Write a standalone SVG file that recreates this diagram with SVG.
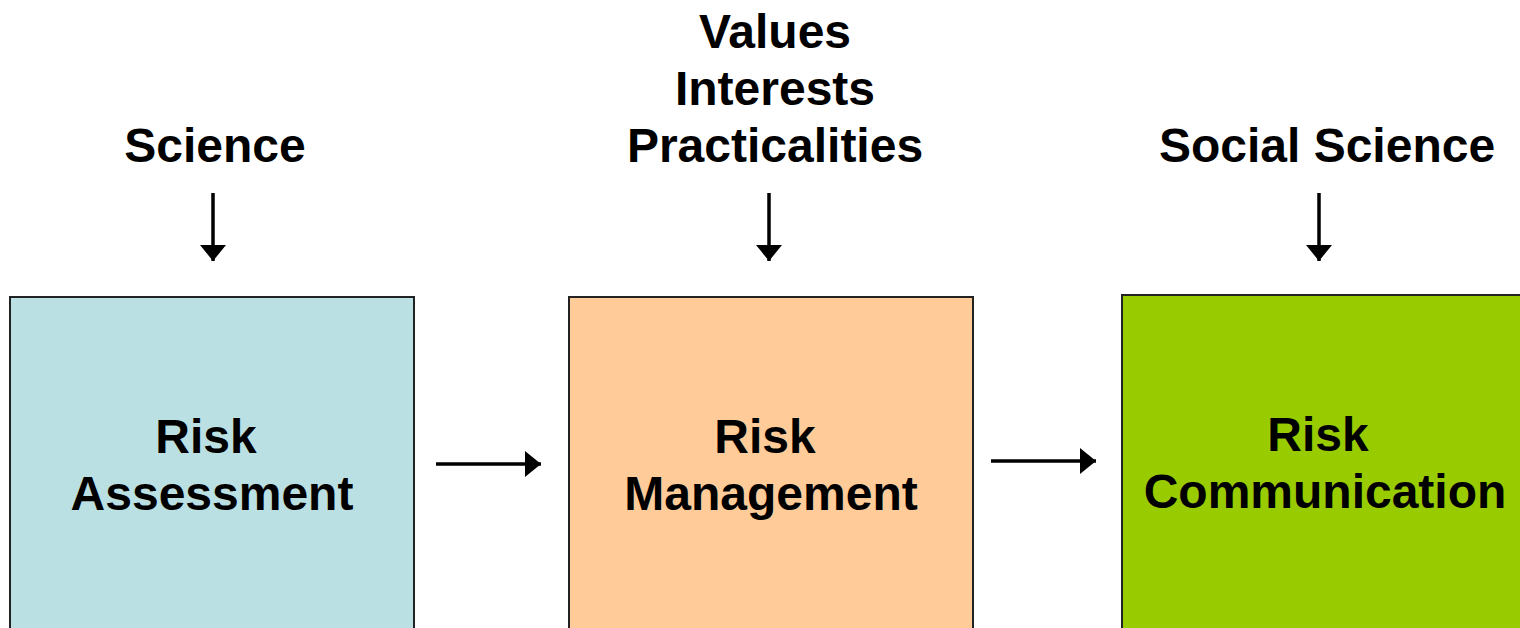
<svg xmlns="http://www.w3.org/2000/svg" width="1520" height="628" viewBox="0 0 1520 628">
<style>
.t{font-family:"Liberation Sans",Arial,sans-serif;font-weight:bold;font-size:48px;fill:#000;text-anchor:middle}
.box{stroke:#222;stroke-width:2}
.c{stroke:#000;stroke-width:3.5;fill:none}
</style>
<defs>
<marker id="ah" markerUnits="userSpaceOnUse" markerWidth="18" markerHeight="28" refX="16" refY="13" orient="auto">
<path d="M0,0 L16,13 L0,26 Z" fill="#000"/>
</marker>
</defs>
<rect width="1520" height="628" fill="#fff"/>
<g id="labels">
<text class="t" x="215" y="162">Science</text>
<text class="t" x="775" y="48">Values</text>
<text class="t" x="775" y="105">Interests</text>
<text class="t" x="775" y="162">Practicalities</text>
<text class="t" x="1327" y="162">Social Science</text>
</g>
<g id="node-assessment">
<rect class="box" x="10" y="297" width="404" height="340" fill="#BBE0E3"/>
<text class="t" x="206" y="453">Risk</text>
<text class="t" x="212" y="510">Assessment</text>
</g>
<g id="node-management">
<rect class="box" x="569" y="297" width="404" height="340" fill="#FFCC99"/>
<text class="t" x="765" y="453">Risk</text>
<text class="t" x="771" y="510">Management</text>
</g>
<g id="node-communication">
<rect class="box" x="1122" y="295" width="410" height="340" fill="#99CC00"/>
<text class="t" x="1318" y="451">Risk</text>
<text class="t" x="1325" y="508">Communication</text>
</g>
<g id="connectors">
<line class="c" x1="213" y1="193" x2="213" y2="261" marker-end="url(#ah)"/>
<line class="c" x1="769" y1="193" x2="769" y2="261" marker-end="url(#ah)"/>
<line class="c" x1="1319" y1="193" x2="1319" y2="261" marker-end="url(#ah)"/>
<line class="c" x1="436" y1="464" x2="541" y2="464" marker-end="url(#ah)"/>
<line class="c" x1="991" y1="461" x2="1096" y2="461" marker-end="url(#ah)"/>
</g>
</svg>
